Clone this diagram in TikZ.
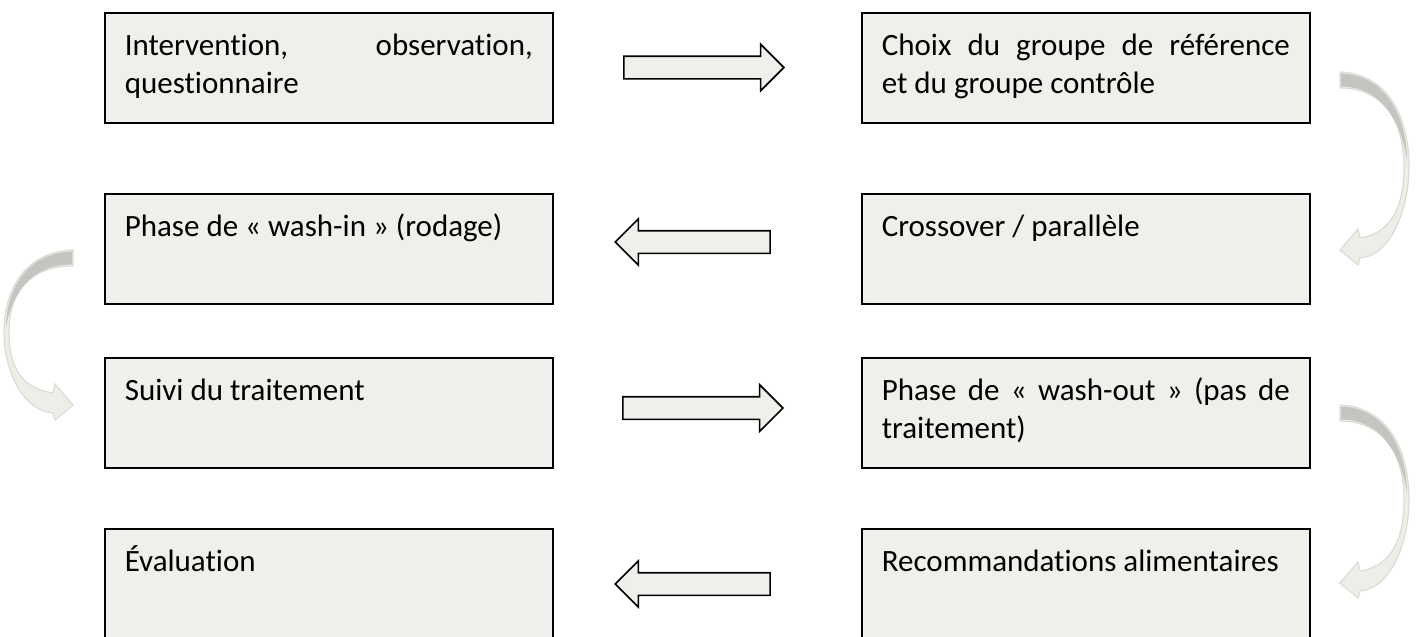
\documentclass[tikz,border=0pt]{standalone}
\usepackage{fontspec}
\setmainfont[Ligatures=NoCommon]{Carlito}
\usetikzlibrary{shapes.arrows}

\definecolor{boxfill}{RGB}{240,239,235}
\definecolor{arcclair}{RGB}{238,237,232}
\definecolor{arcbord}{RGB}{221,220,212}
\definecolor{arcsombre}{RGB}{196,196,192}

\tikzset{
  etape/.style={draw, line width=1.6pt, fill=boxfill, anchor=north west,
    text width=408pt, align=justify, inner xsep=20pt, inner ysep=0pt,
    text height=43pt, text depth=67pt, font=\fontsize{31}{38}\selectfont},
  fleche/.style={single arrow, draw, line width=1.6pt, fill=boxfill,
    minimum height=160pt, inner xsep=0pt, inner ysep=10.5pt,
    single arrow head extend=12pt, single arrow head indent=0pt, anchor=tip}
}

% curved grey arrow: #1 tail, #2 side (1 right, -1 left), #3 length
\newcommand{\courbe}[3]{%
  \begin{scope}[shift={#1}, xscale=#2]
    \filldraw[fill=arcclair, draw=arcbord, line width=1.2pt]
      (0,0) .. controls (50,2) and (69,0.27*#3) .. (69,0.53*#3)
      .. controls (69,0.78*#3) and (50,#3+6) .. (20,#3+8)
      -- (18,#3+15) -- (0,#3) -- (18,#3-21) -- (20,#3-12)
      .. controls (46,#3-16) and (64,0.8*#3) .. (64,0.53*#3)
      .. controls (64,0.28*#3) and (44,16) .. (0,16) -- cycle;
    \fill[arcsombre] (1,1.5) .. controls (48,3) and (67,0.27*#3) .. (67,0.5*#3)
      .. controls (62,0.3*#3) and (44,14.5) .. (1,14.5) -- cycle;
  \end{scope}}

\begin{document}
\begin{tikzpicture}[x=1pt,y=-1pt]
  \useasboundingbox (0,0) rectangle (1416,637);

  % boxes
  \node[etape] (interv) at (104,12) {Intervention, observation,\linebreak questionnaire};
  \node[etape] (choix) at (861,12) {Choix du groupe de référence\linebreak et du groupe contrôle};
  \node[etape] (cross) at (861,193) {Crossover / parallèle};
  \node[etape] (washin) at (104,193) {Phase de « wash-in » (rodage)};
  \node[etape] (suivi) at (104,357) {Suivi du traitement};
  \node[etape] (washout) at (861,357) {Phase de « wash-out » (pas de\linebreak traitement)};
  \node[etape] (recom) at (861,528) {Recommandations alimentaires};
  \node[etape] (eval) at (104,528) {Évaluation};

  % block arrows
  \node[fleche] (f1) at (785,67.5) {};
  \node[fleche, minimum height=155pt, shape border rotate=180] (f2) at (614,242) {};
  \node[fleche] (f3) at (784,408) {};
  \node[fleche, minimum height=155pt, shape border rotate=180] (f4) at (614,584) {};

  % curved arrows
  \courbe{(1340,72)}{1}{178}
  \courbe{(73,250)}{-1}{155}
  \courbe{(1340,405)}{1}{178}
\end{tikzpicture}
\end{document}
